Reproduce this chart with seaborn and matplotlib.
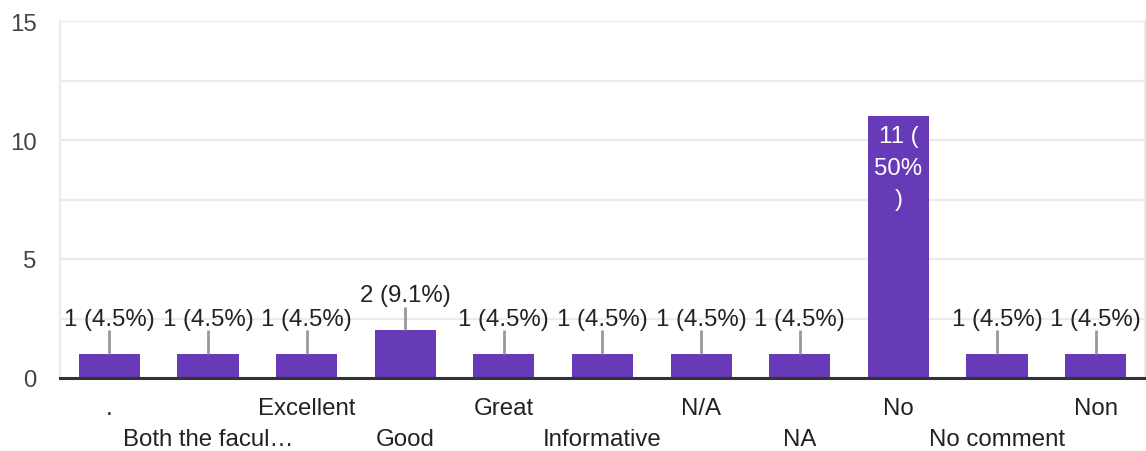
import matplotlib
matplotlib.use("Agg")
import matplotlib.pyplot as plt
import seaborn as sns
import pandas as pd
from matplotlib.ticker import MultipleLocator

categories = [".", "Both the facul\u2026", "Excellent", "Good", "Great", "Informative",
              "N/A", "NA", "No", "No comment", "Non"]
values = [1, 1, 1, 2, 1, 1, 1, 1, 11, 1, 1]
y_ticks = [0, 5, 10, 15]

total = sum(values)
labels = [f"{v} ({round(v / total * 100, 1):g}%)" for v in values]

sns.set_style("white")
plt.rcParams['font.family'] = ['Liberation Sans', 'DejaVu Sans']

df = pd.DataFrame({"cat": categories, "val": values})

fig = plt.figure(figsize=(11.46, 4.52), dpi=100)
ax = fig.add_axes([60 / 1146, 1 - 379 / 452, 1085 / 1146, 357 / 452])

bar_color = "#673ab7"
sns.barplot(data=df, x="cat", y="val", color=bar_color, width=0.62, saturation=1,
            ax=ax, zorder=3, linewidth=0)

FS = 17.3

ax.set_ylim(0, 15)
ax.set_xlim(-0.5, len(categories) - 0.5)
ax.yaxis.set_minor_locator(MultipleLocator(2.5))
ax.set_yticks(y_ticks)
ax.grid(axis="y", which="both", color="#ebebeb", linewidth=1.6, zorder=0)
ax.set_xlabel("")
ax.set_ylabel("")

for s in ["left", "right", "top"]:
    ax.spines[s].set_color("#ebebeb")
    ax.spines[s].set_linewidth(1.6)
ax.spines["top"].set_visible(False)
ax.spines["bottom"].set_color("#333333")
ax.spines["bottom"].set_linewidth(2.2)
ax.spines["bottom"].set_zorder(5)

ax.tick_params(axis="y", which="both", length=0, pad=17, labelsize=FS, labelcolor="#444444")
ax.tick_params(axis="x", length=0, labelsize=FS, labelcolor="#222222")
ax.set_xticks(range(len(categories)))
ax.set_xticklabels(categories)
for i, t in enumerate(ax.xaxis.get_major_ticks()):
    t.set_pad(13.5 if i % 2 == 0 else 36)

for i, (v, lab) in enumerate(zip(values, labels)):
    if v >= 5:
        txt = lab.replace(" (", " (\n").replace("%)", "%\n)")
        ax.text(i, v - 0.38, txt, ha="center", va="top", color="white",
                fontsize=FS, linespacing=1.55, zorder=6)
    else:
        ax.plot([i, i], [v, v + 1.0], color="#999999", linewidth=2, zorder=4,
                solid_capstyle="butt")
        ax.text(i, v + 1.02, lab, ha="center", va="bottom", color="#222222",
                fontsize=FS, zorder=6)

fig.savefig("out.png", dpi=100)
